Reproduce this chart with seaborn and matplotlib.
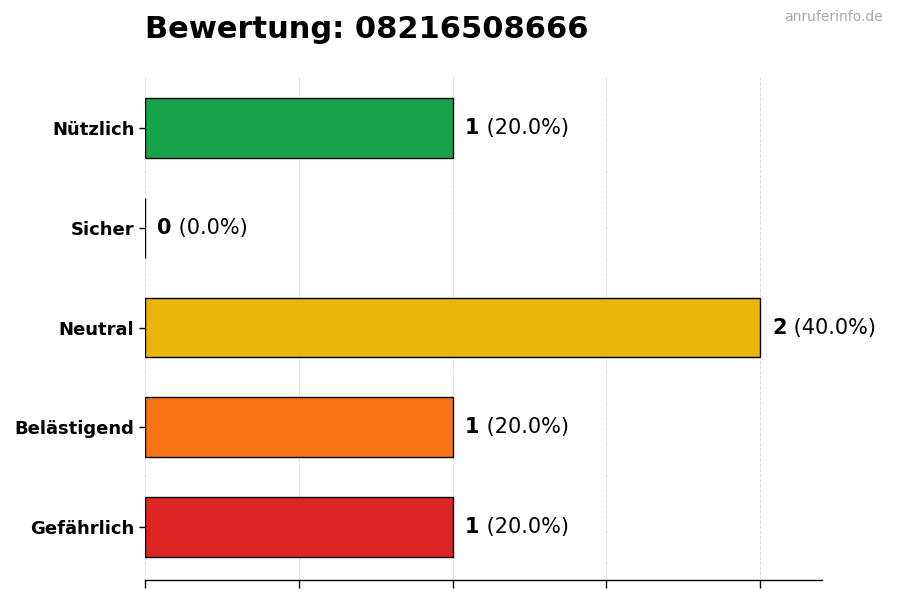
# Bewertung chart - horizontal bars per rating category
import matplotlib
matplotlib.use("Agg")
import matplotlib.pyplot as plt
import seaborn as sns
import pandas as pd

# data
categories = ["Nützlich", "Sicher", "Neutral", "Belästigend", "Gefährlich"]
counts = [1, 0, 2, 1, 1]
colors = ["#16a34a", "#2563eb", "#eab308", "#f97316", "#dc2626"]
title = "Bewertung: 08216508666"
watermark = "anruferinfo.de"

total = sum(counts)
df = pd.DataFrame({"Kategorie": categories, "Anzahl": counts})

sns.set_style("white")
plt.rcParams["font.family"] = ["DejaVu Sans"]
plt.rcParams["text.color"] = "black"
plt.rcParams["ytick.color"] = "black"
plt.rcParams["xtick.color"] = "black"
plt.rcParams["ytick.labelcolor"] = "black"

fig = plt.figure(figsize=(9, 6), dpi=100)
ax = fig.add_axes([0.161, 0.0333, 0.752, 0.8417])

sns.barplot(
    data=df,
    x="Anzahl",
    y="Kategorie",
    hue="Kategorie",
    palette=colors,
    saturation=1,
    orient="h",
    width=0.6,
    edgecolor="black",
    linewidth=1,
    legend=False,
    ax=ax
)

ax.set_xlim(0, 2.2)
ax.set_ylim(4.53, -0.53)
ax.set_xticks([0, 0.5, 1, 1.5, 2])
ax.set_xticklabels([])
ax.tick_params(axis="x", bottom=True, length=6, width=1, color="black")
ax.tick_params(axis="y", left=True, length=4, width=1, color="black")
ax.set_xlabel("")
ax.set_ylabel("")
for lab in ax.get_yticklabels():
    lab.set_fontweight("bold")
    lab.set_fontsize(13)
    lab.set_color("black")

ax.grid(axis="x", linestyle="--", color="#dddddd", linewidth=0.7)
ax.set_axisbelow(True)
for side in ["top", "right", "left"]:
    ax.spines[side].set_visible(False)
ax.spines["bottom"].set_color("black")
ax.spines["bottom"].set_linewidth(1)

# value labels: bold count + normal percent
for i, c in enumerate(counts):
    t1 = ax.annotate(
        str(c),
        xy=(c, i),
        xytext=(9, 0),
        textcoords="offset points",
        va="center",
        ha="left",
        fontsize=15,
        fontweight="bold",
        color="black"
    )
    ax.annotate(
        f" ({c / total * 100:.1f}%)",
        xy=(1, 0),
        xycoords=t1,
        va="bottom",
        ha="left",
        fontsize=15,
        color="black"
    )

fig.text(0.161, 0.95, title, fontsize=22, fontweight="bold", ha="left", va="center", color="black")
fig.text(0.981, 0.972, watermark, fontsize=10, color="#aaaaaa", ha="right", va="center")

plt.savefig("out.png", dpi=100)
